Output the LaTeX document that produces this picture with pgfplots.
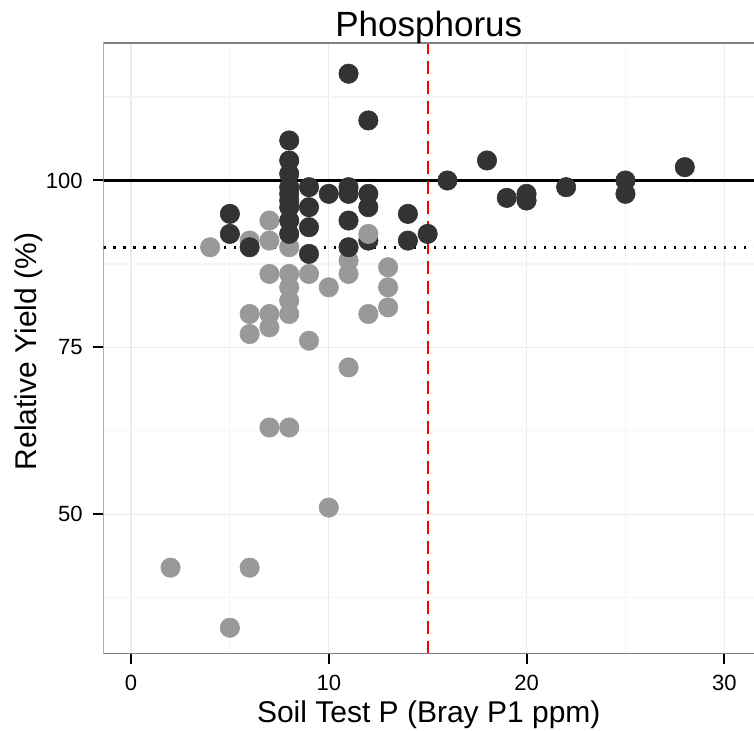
\documentclass[border=0pt]{standalone}
\usepackage{fontspec}
\setmainfont{Liberation Sans}
\usepackage{pgfplots}
\pgfplotsset{compat=1.18}
\definecolor{darkpt}{HTML}{333333}
\definecolor{lightpt}{HTML}{999999}
\definecolor{majgrid}{HTML}{EBEBEB}
\definecolor{mingrid}{HTML}{F5F5F5}
\definecolor{framecol}{HTML}{808080}
\begin{document}
\begin{tikzpicture}
\useasboundingbox (0,0) rectangle (377pt,365.5pt);
\begin{axis}[
  at={(51.75pt,38.5pt)}, anchor=south west,
  scale only axis, width=325.25pt, height=305.5pt,
  xmin=-1.39, xmax=31.5, ymin=29.07, ymax=120.6,
  xtick={0,10,20,30}, minor xtick={5,15,25},
  ytick={50,75,100}, minor ytick={37.5,62.5,87.5,112.5},
  grid=both,
  major grid style={majgrid, line width=0.6pt},
  minor grid style={mingrid, line width=0.6pt},
  axis line style={draw=none},
  tick align=outside, tick pos=left,
  major tick length=5pt,
  minor tick style={draw=none},
  major tick style={black, line width=1pt},
  /pgf/number format/assume math mode=true,
  xticklabel style={font=\fontsize{11}{11}\selectfont, anchor=north, inner sep=0pt, yshift=-5.3pt},
  yticklabel style={font=\fontsize{11}{11}\selectfont, anchor=east, inner sep=0pt, xshift=-5.2pt},
  title={Phosphorus},
  title style={at={(axis description cs:0.5,1.0082)}, anchor=base, inner sep=0pt, yshift=-5.5pt, font=\fontsize{17.5}{17.5}\selectfont},
  xlabel={Soil Test P (Bray P1 ppm)},
  xlabel style={at={(axis description cs:0.5,-0.1125)}, anchor=base, inner sep=0pt, font=\fontsize{15}{15}\selectfont},
  ylabel={Relative Yield (\%)},
  ylabel style={at={(axis description cs:-0.1035,0.495)}, anchor=base, inner sep=0pt, font=\fontsize{15}{15}\selectfont},
]
% light points (below reference)
\addplot[only marks, color=lightpt, mark=*, mark size=4.85pt, mark options={line width=0.3pt, draw=lightpt, fill=lightpt}] coordinates {
 (2,42) (4,90) (5,33) (6,91) (6,80) (6,77) (6,42)
 (7,94) (7,91) (7,86) (7,80) (7,78) (7,63)
 (8,90) (8,86) (8,84) (8,82) (8,80) (8,63)
 (9,86) (9,76) (10,84) (10,51)
 (11,88) (11,86) (11,72) (12,80)
 (13,87) (13,84) (13,81)
};
% dark points
\addplot[only marks, color=darkpt, mark=*, mark size=4.85pt, mark options={line width=0.3pt, draw=darkpt, fill=darkpt}] coordinates {
 (5,95) (5,92) (6,90)
 (8,106) (8,103) (8,101) (8,99) (8,98) (8,97) (8,96) (8,94) (8,92)
 (9,99) (9,96) (9,93) (9,89) (10,98)
 (11,116) (11,99) (11,98) (11,94) (11,90)
 (12,109) (12,98) (12,96) (12,91)
 (14,95) (14,91) (15,92) (16,100) (18,103) (19,97.4)
 (20,98) (20,97) (22,99) (25,100) (25,98) (28,102)
};
\addplot[only marks, color=lightpt, mark=*, mark size=4.85pt, mark options={line width=0.3pt, draw=lightpt, fill=lightpt}] coordinates {(12,92)};
% reference lines
\addplot[black, line width=1.3pt] coordinates {(-1.39,100) (31.5,100)};
\addplot[black, line width=1.4pt, dash pattern=on 1.4pt off 3.6pt] coordinates {(-1.39,90) (31.5,90)};
\addplot[red, line width=1.1pt, dash pattern=on 6.5pt off 3.5pt] coordinates {(15,29.07) (15,120.6)};
\draw[framecol, line width=1pt] (rel axis cs:1.01,1) -- (rel axis cs:0,1) -- (rel axis cs:0,0) -- (rel axis cs:1.01,0);
\end{axis}
\end{tikzpicture}
\end{document}
